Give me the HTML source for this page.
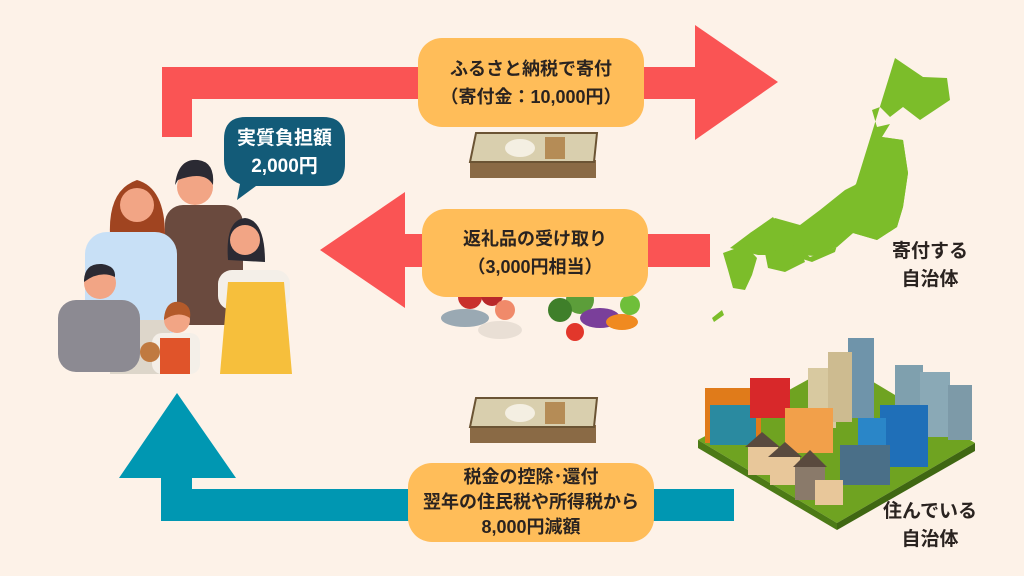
<!DOCTYPE html>
<html><head><meta charset="utf-8"><style>
html,body{margin:0;padding:0}
body{width:1024px;height:576px;background:#fdf2e8;position:relative;overflow:hidden;font-family:"Liberation Sans","Noto Sans CJK JP",sans-serif}
svg{position:absolute;left:0;top:0}
.box{position:absolute;background:#ffbd59;border-radius:24px;display:flex;align-items:center;justify-content:center;text-align:center;font-weight:bold;color:#2a2320;font-size:18px;line-height:28px}
.lbl{position:absolute;font-weight:bold;color:#2a2320;font-size:19px;line-height:28px;text-align:center;width:100px}
</style></head><body>
<svg width="1024" height="576" viewBox="0 0 1024 576">
<polygon fill="#fa5454" points="162,137 192,137 192,99 695,99 695,140 778,82 695,25 695,67 162,67"/>
<polygon fill="#fa5454" points="710,234 405,234 405,192 320,250 405,308 405,267 710,267"/>
<polygon fill="#0097b2" points="734,489 192,489 192,478 236,478 177,393 119,478 161,478 161,521 734,521"/>
<path d="M246,117 H323 Q345,117 345,139 V164 Q345,186 323,186 H256 L237,200 L240,184 Q224,178 224,160 V139 Q224,117 246,117Z" fill="#135b78"/>
<g>
<rect x="470" y="160" width="126" height="18" fill="#8a6a45"/>
<polygon points="476,133 597,133 594,162 470,162" fill="#d9cfae" stroke="#6b5434" stroke-width="2"/>
<ellipse cx="520" cy="148" rx="15" ry="9" fill="#f4efe2"/><rect x="545" y="137" width="20" height="22" fill="#b58c56"/>
</g>
<g>
<rect x="470" y="425" width="126" height="18" fill="#8a6a45"/>
<polygon points="476,398 597,398 594,427 470,427" fill="#d9cfae" stroke="#6b5434" stroke-width="2"/>
<ellipse cx="520" cy="413" rx="15" ry="9" fill="#f4efe2"/><rect x="545" y="402" width="20" height="22" fill="#b58c56"/>
</g>
<circle cx="470" cy="297" r="12" fill="#c9302c"/><circle cx="492" cy="295" r="11" fill="#b8282a"/><circle cx="505" cy="310" r="10" fill="#f08a6a"/>
<ellipse cx="465" cy="318" rx="24" ry="9" fill="#9aa9b3"/><ellipse cx="500" cy="330" rx="22" ry="9" fill="#e9dfd5"/>
<circle cx="580" cy="300" r="14" fill="#5c9e3a"/><circle cx="560" cy="310" r="12" fill="#3f7f2a"/><ellipse cx="600" cy="318" rx="20" ry="10" fill="#7a3f9a"/>
<circle cx="575" cy="332" r="9" fill="#e2372b"/><ellipse cx="622" cy="322" rx="16" ry="8" fill="#f08a20"/><circle cx="630" cy="305" r="10" fill="#6fbf3a"/>
<g fill="#7cbd2a">
<polygon points="895,58 923,77 947,78 950,100 920,120 903,107 890,117 880,107 872,110 877,127 890,124 882,137 903,140 908,173 903,207 897,227 877,240 853,233 837,247 810,257 790,243 773,217 750,233 730,248 758,255 790,255 812,262 835,252"/>
<polygon points="882,137 903,140 908,173 903,207 897,227 877,240 853,233 837,247 815,256 800,255 790,245 770,230 755,240 780,230 800,225 820,210 835,198 845,190 855,185 865,175 872,160 875,145"/>
<polygon points="750,233 775,218 800,225 795,245 770,252 745,250"/>
<polygon points="765,253 800,248 805,262 785,272 768,268"/>
<polygon points="723,253 745,245 757,258 752,275 745,290 733,288 728,270"/>
<polygon points="712,318 722,310 724,315 714,322"/>
</g>
<polygon points="698,440 840,362 975,443 837,523" fill="#6fa321"/>
<polygon points="698,440 837,523 837,530 698,448" fill="#4c7a16"/>
<polygon points="837,523 975,443 975,451 837,530" fill="#3f6712"/>
<rect x="848" y="338" width="26" height="80" fill="#6f94aa"/><rect x="808" y="368" width="28" height="60" fill="#d8c9a0"/><rect x="828" y="352" width="24" height="70" fill="#cdbb90"/>
<rect x="895" y="365" width="28" height="70" fill="#7fa0ae"/><rect x="920" y="372" width="30" height="65" fill="#8aa9b6"/><rect x="948" y="385" width="24" height="55" fill="#7d9aa8"/>
<rect x="880" y="405" width="48" height="62" fill="#1f6fb8"/><rect x="858" y="418" width="28" height="48" fill="#2a86c8"/>
<rect x="705" y="388" width="56" height="55" fill="#e07b1a"/><rect x="710" y="405" width="46" height="40" fill="#2a8aa0"/>
<rect x="750" y="378" width="40" height="40" fill="#d8282a"/><rect x="785" y="408" width="48" height="45" fill="#f2a04a"/>
<rect x="840" y="445" width="50" height="40" fill="#4a6f88"/>
<rect x="748" y="445" width="30" height="30" fill="#e8c79a"/><rect x="770" y="455" width="30" height="30" fill="#e8c79a"/><rect x="795" y="465" width="30" height="35" fill="#8a7a6a"/><rect x="815" y="480" width="28" height="25" fill="#e8c79a"/>
<polygon points="745,447 762,432 780,447" fill="#5a4a3e"/><polygon points="768,457 785,442 802,457" fill="#5a4a3e"/><polygon points="793,467 810,450 827,467" fill="#5a4a3e"/>
<rect x="165" y="205" width="78" height="120" rx="18" fill="#6a4a3e"/>
<path d="M110,235 Q108,190 137,180 Q165,188 165,235Z" fill="#a04420"/>
<circle cx="137" cy="205" r="17" fill="#f2a585"/>
<rect x="85" y="232" width="92" height="110" rx="22" fill="#c8e0f6"/>
<rect x="110" y="320" width="60" height="54" fill="#ddd6ca"/>
<circle cx="195" cy="187" r="18" fill="#f2a585"/>
<path d="M175,185 Q178,158 198,160 Q215,162 213,185 Q205,170 178,180Z" fill="#2b2a33"/>
<path d="M228,260 Q225,220 245,218 Q265,220 265,262Z" fill="#2b2a33"/>
<circle cx="245" cy="240" r="15" fill="#f2a585"/>
<rect x="218" y="270" width="72" height="40" rx="14" fill="#f4efe8"/>
<polygon points="228,282 284,282 292,374 220,374" fill="#f6bf3c"/>
<rect x="58" y="300" width="82" height="72" rx="18" fill="#8c8a92"/>
<circle cx="100" cy="283" r="16" fill="#f2a585"/>
<path d="M84,280 Q85,263 102,264 Q116,266 115,277 Q100,270 84,282Z" fill="#2b2a33"/>
<circle cx="177" cy="320" r="13" fill="#f2a585"/>
<path d="M164,318 Q166,300 180,302 Q192,305 190,318 Q178,310 164,320Z" fill="#b35a2a"/>
<rect x="152" y="333" width="48" height="41" rx="10" fill="#f4efe8"/>
<rect x="160" y="338" width="30" height="36" fill="#e0542a"/>
<circle cx="150" cy="352" r="10" fill="#c07a40"/>
</svg>
<div style="position:absolute;left:224px;top:125px;width:121px;text-align:center;color:#fff;font-weight:bold;font-size:19px;line-height:28px">実質負担額<br>2,000円</div>
<div class="box" style="left:418px;top:38px;width:226px;height:89px">ふるさと納税で寄付<br>（寄付金：10,000円）</div>
<div class="box" style="left:422px;top:209px;width:226px;height:88px">返礼品の受け取り<br>（3,000円相当）</div>
<div class="box" style="left:408px;top:463px;width:246px;height:79px;line-height:25px">税金の控除･還付<br>翌年の住民税や所得税から<br>8,000円減額</div>
<div class="lbl" style="left:880px;top:238px">寄付する<br>自治体</div>
<div class="lbl" style="left:880px;top:498px">住んでいる<br>自治体</div>
</body></html>
